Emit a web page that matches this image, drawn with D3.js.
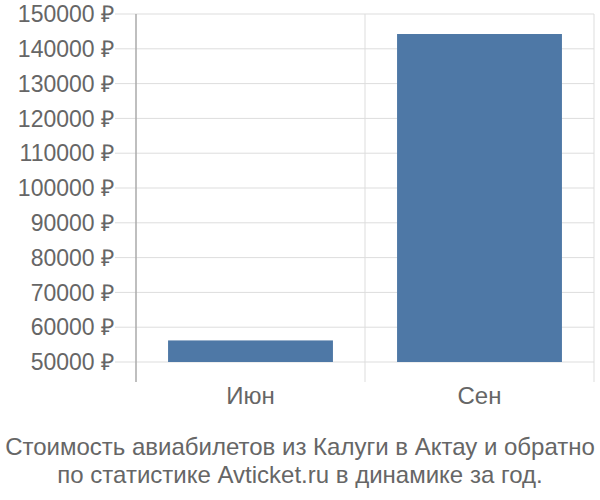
<!DOCTYPE html>
<html><head><meta charset="utf-8">
<script src="https://cdn.jsdelivr.net/npm/d3@7"></script>
<style>body{margin:0;background:#fff;}svg{display:block;font-family:"Liberation Sans",Arial,sans-serif;}</style>
</head><body>
<svg id="c" width="600" height="500"></svg>
<script>
const categories = ["Июн", "Сен"];
const values = [56200, 144250];
const yTicks = [50000, 60000, 70000, 80000, 90000, 100000, 110000, 120000, 130000, 140000, 150000];
const titleLines = ["Стоимость авиабилетов из Калуги в Актау и обратно", "по статистике Avticket.ru в динамике за год."];

const svg = d3.select("#c");
const L = 136, R = 594, T = 14, B = 362;
const y = d3.scaleLinear().domain([50000, 150000]).range([B, T]);
const xb = d3.scaleBand().domain(categories).range([L, R]).paddingInner(0.28).paddingOuter(0.14);

// horizontal grid
svg.append("g").selectAll("line").data(yTicks).join("line")
  .attr("x1", 115).attr("x2", R).attr("y1", d => y(d)).attr("y2", d => y(d))
  .attr("stroke", "#dddddd").attr("stroke-width", 1);
// vertical grid
const bounds = categories.map(c => xb(c) - xb.step()*xb.paddingOuter()).concat([R]);
svg.append("g").selectAll("line").data(bounds.slice(1)).join("line")
  .attr("x1", d => d).attr("x2", d => d).attr("y1", T).attr("y2", 382)
  .attr("stroke", "#dddddd").attr("stroke-width", 1);
// bars
svg.append("g").selectAll("rect").data(values).join("rect")
  .attr("x", (d, i) => xb(categories[i])).attr("width", xb.bandwidth())
  .attr("y", d => y(d)).attr("height", d => B - y(d))
  .attr("fill", "#4e78a6");
// axis line
svg.append("line").attr("x1", L).attr("x2", L).attr("y1", T).attr("y2", 382)
  .attr("stroke", "#aaaaaa").attr("stroke-width", 1.5);
// y labels
svg.append("g").selectAll("text").data(yTicks).join("text")
  .attr("x", 114).attr("y", d => y(d)).attr("dy", "0.36em").attr("text-anchor", "end")
  .attr("fill", "#666666").style("font-size", "23px")
  .text(d => d + " ₽");
// x labels
svg.append("g").selectAll("text").data(categories).join("text")
  .attr("x", d => xb(d) + xb.bandwidth()/2).attr("y", 404).attr("text-anchor", "middle")
  .attr("fill", "#666666").style("font-size", "24px").text(d => d);
// title
svg.append("g").selectAll("text").data(titleLines).join("text")
  .attr("x", 300).attr("y", (d, i) => 455 + i*28).attr("text-anchor", "middle")
  .attr("fill", "#666666").style("font-size", "24px").text(d => d);
</script>
</body></html>
